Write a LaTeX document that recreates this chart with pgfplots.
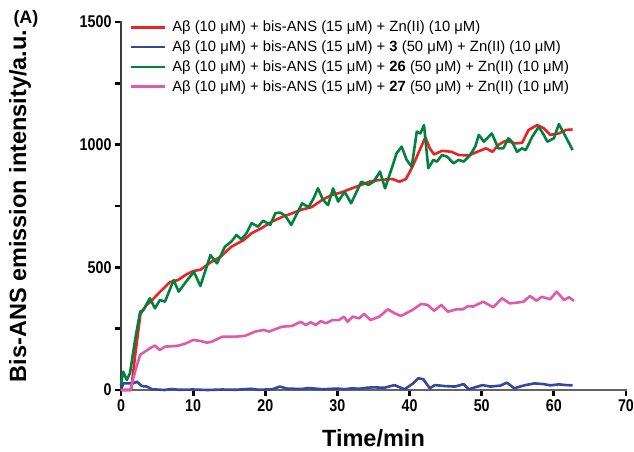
\documentclass[border=0pt]{standalone}
\usepackage{pgfplots}
\pgfplotsset{compat=1.18}
\usepackage{fontspec}
\setmainfont{Liberation Sans}
\newfontfamily\condbf[FakeStretch=0.84]{Liberation Sans Bold}
\definecolor{cred}{RGB}{237,32,36}
\definecolor{cblue}{RGB}{52,72,160}
\definecolor{cgreen}{RGB}{0,130,60}
\definecolor{cpink}{RGB}{222,90,170}
\definecolor{axa}{RGB}{60,60,60}
\definecolor{axb}{RGB}{100,100,100}
\begin{document}
\begin{tikzpicture}
\path[use as bounding box] (-121pt,-61pt) rectangle (513pt,390pt);
\begin{axis}[
  at={(0pt,0pt)}, anchor=south west,
  scale only axis, width=505pt, height=368pt,
  xmin=0, xmax=70, ymin=0, ymax=1500,
  axis x line=bottom, axis y line=left,
  x axis line style={-, draw=axb}, y axis line style={-, draw=axa},
  axis line style={line width=2.6pt, line cap=rect},
  tick style={draw=black, line width=2.8pt},
  tick align=outside,
  major tick length=6pt, minor tick length=6pt,
  xtick={0,10,...,70},
  ytick={0,500,1000,1500},
  minor ytick={250,750,1250},
  /pgf/number format/assume math mode=true,
  /pgf/number format/1000 sep={},
  ticklabel style={font=\condbf\fontsize{17}{17}\selectfont},
  xlabel={Time/min},
  ylabel={Bis-ANS emission intensity/a.u.},
  xlabel style={font=\bfseries\fontsize{23.5}{23.5}\selectfont, inner sep=0pt, at={(axis description cs:0.5,0)}, anchor=center, yshift=-48pt},
  ylabel style={font=\bfseries\fontsize{23.5}{23.5}\selectfont, inner sep=0pt, at={(axis description cs:0,0.5)}, anchor=center, yshift=101pt},
  clip=false,
  legend cell align=left,
  legend style={at={(rel axis cs:0,1)}, anchor=north west, xshift=6pt, yshift=4.5pt,
    draw=none, fill=none, font=\fontsize{14.8}{14.8}\selectfont, row sep=4.6pt,
    nodes={inner sep=1.5pt}, column sep=4pt},
  legend image code/.code={\draw[#1] (0pt,0pt) -- (34pt,0pt);},
  every axis plot/.append style={line width=2.6pt, line join=round},
]
\addplot[cred] coordinates {
(0,0) (1.4,0) (2.0,150) (2.7,310) (3.5,345) (4.1,360) (5.4,400) (6.8,440) (7.9,448) (9,470) (10,485) (11,490) (12.4,520) (13.8,543) (15.3,584) (17,611) (18.1,639) (19.5,660) (20.9,686) (22.3,705) (23.7,720) (25,735) (26.4,745) (27.9,775) (29.2,795) (30.5,805) (32,822) (33.3,836) (34.5,850) (35.8,856) (36.7,858) (37.6,860) (38.6,849) (39.5,860) (40.4,910) (41.4,978) (42.2,1030) (42.8,985) (43.4,960) (44.5,975) (45.8,971) (46.8,958) (48.2,956) (49.4,971) (50.6,985) (51.5,971) (52.3,999) (53.3,1016) (54.7,1005) (55.6,1008) (56.5,1060) (57.7,1080) (58.6,1067) (59.5,1040) (60.7,1046) (61.7,1060) (62.6,1062)
};
\addlegendentry{Aβ (10 μM) + bis-ANS (15 μM) + Zn(II) (10 μM)}
\addplot[cblue] coordinates {
(0,0) (0.3,27) (1.7,27) (2.2,34) (2.9,16) (3.6,14) (4.3,3) (5,2) (6,0) (7,4) (8,1) (10,2) (12,0) (14,2) (16,1) (18,5) (19,1) (21,3) (22,14) (23,6) (25,4) (26,8) (28,3) (30,6) (31,3) (32,7) (33,5) (34,9) (35,11) (36.5,9) (37.9,20) (39.3,3) (40.5,27) (41.2,48) (41.9,44) (42.8,7) (43.5,20) (44.9,16) (46.3,14) (47.5,24) (48.2,3) (50.1,20) (51.2,14) (52.6,18) (53.5,30) (54.5,7) (55.9,19) (57.3,27) (58.6,24) (59.5,19) (60.7,23) (61.7,20) (62.6,19)
};
\addlegendentry{Aβ (10 μM) + bis-ANS (15 μM) + \textbf{3} (50 μM) + Zn(II) (10 μM)}
\addplot[cgreen] coordinates {
(0,20) (0.3,75) (0.8,41) (1.25,69) (1.95,204) (2.65,319) (3.1,326) (4.0,374) (4.7,333) (5.4,367) (6.1,360) (7.3,448) (8.0,401) (9.0,441) (10.1,482) (11.0,424) (12.4,550) (13.3,516) (14.4,584) (15.3,605) (16.0,632) (16.7,614) (17.4,639) (18.1,680) (19.0,666) (19.7,690) (20.7,673) (21.4,721) (22.1,723) (22.8,709) (23.6,673) (24.4,720) (25.1,761) (26.0,745) (26.7,781) (27.3,822) (28.0,775) (28.7,754) (29.4,822) (30.1,768) (31.0,808) (31.9,761) (33.3,849) (34.3,836) (35.0,849) (35.9,890) (36.6,822) (37.6,910) (38.2,965) (38.9,992) (39.6,938) (40.3,910) (41.0,1053) (41.5,1046) (42.0,1080) (42.6,904) (43.3,938) (43.8,931) (44.5,958) (45.2,951) (46.1,924) (46.8,938) (47.5,931) (48.4,958) (49.1,992) (49.6,1040) (50.3,1012) (51.4,1046) (52.3,985) (53.0,985) (53.7,1026) (54.2,1012) (54.9,971) (55.6,985) (56.1,978) (57.0,1032) (57.9,1073) (58.6,1040) (59.1,1012) (60.0,1026) (60.7,1084) (61.4,1046) (62.6,978)
};
\addlegendentry{Aβ (10 μM) + bis-ANS (15 μM) + \textbf{26} (50 μM) + Zn(II) (10 μM)}
\addplot[cpink] coordinates {
(0,0) (1.3,0) (2.0,80) (2.65,143) (3.3,156) (4.0,170) (4.7,181) (5.4,163) (6.1,177) (7,178) (8,181) (9,190) (10,204) (11,200) (11.9,193) (12.6,197) (14,217) (15.8,217) (17.2,221) (18.6,238) (19.8,245) (20.5,238) (22.3,258) (23.7,261) (24.9,278) (25.6,265) (26.3,276) (27,265) (27.7,281) (28.4,272) (29.3,285) (30.2,285) (30.9,299) (31.4,278) (32.1,299) (33,292) (33.7,310) (34.6,285) (35.8,299) (37,329) (37.9,313) (38.8,302) (40.4,326) (41.6,351) (42.5,347) (43.4,323) (44.4,347) (45.3,319) (46.5,329) (47.4,329) (48.1,342) (48.8,340) (50.2,360) (51.6,337) (52.8,374) (53.9,353) (55.1,357) (55.8,360) (56.7,383) (57.6,364) (58.3,380) (59.5,370) (60.4,401) (61.4,367) (62.1,378) (62.8,363)
};
\addlegendentry{Aβ (10 μM) + bis-ANS (15 μM) + \textbf{27} (50 μM) + Zn(II) (10 μM)}
\node[font=\bfseries\fontsize{18}{18}\selectfont, inner sep=0pt] at (rel axis cs:0,1) [xshift=-95pt, yshift=3pt] {(A)};
\end{axis}
\end{tikzpicture}
\end{document}
